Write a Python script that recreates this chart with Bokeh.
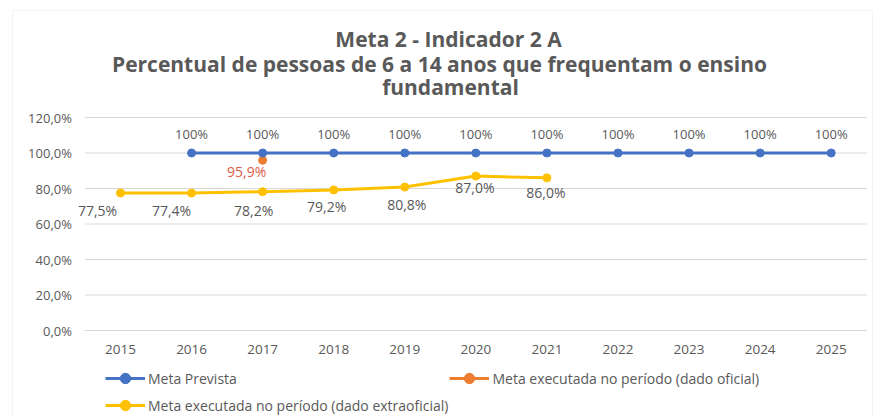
from bokeh.plotting import figure
from bokeh.models import (Label, Legend, LegendItem, CustomJSTickFormatter,
                          Range1d, FixedTicker, BoxAnnotation)
from bokeh.core.properties import value
from bokeh.embed import file_html
from bokeh.resources import INLINE

# ---- data ----
years = [2015, 2016, 2017, 2018, 2019, 2020, 2021, 2022, 2023, 2024, 2025]
meta_prevista = [None, 100, 100, 100, 100, 100, 100, 100, 100, 100, 100]
meta_oficial = [None, None, 95.9, None, None, None, None, None, None, None, None]
meta_extraoficial = [77.5, 77.4, 78.2, 79.2, 80.8, 87.0, 86.0, None, None, None, None]
y_ticks = [0, 20, 40, 60, 80, 100, 120]
title_lines = ["Meta 2 - Indicador 2 A",
               "Percentual de pessoas de 6 a 14 anos que frequentam o ensino",
               "fundamental"]

# ---- layout / style ----
W, H = 874, 416
X_FIRST_PX, X_LAST_PX = 120.0, 830.7   # pixel columns of first / last year
Y0_PX, Y120_PX = 330.0, 117.0          # pixel rows of 0% and 120%
title_cx = [448, 439, 450]
title_cy = [38, 63, 86]
border = (12, 872, 10)                 # left, right, top (px)

prev_dx, prev_dy = 0, -19
ofi_dx, ofi_dy = -16, 11
extra_dx = [-23, -20, -9, -7, 2, -1, -1]
extra_dy = [18, 17, 19, 17, 17, 11, 15]

FONT = "Open Sans"
GRAY = "#595959"
GRID = "#d9d9d9"
BLUE = "#4472C4"
ORANGE = "#ED7D31"
YELLOW = "#FFC000"


def pts(vals):
    xs = [y for y, v in zip(years, vals) if v is not None]
    ys = [v for v in vals if v is not None]
    return xs, ys


kx = (X_LAST_PX - X_FIRST_PX) / (years[-1] - years[0])
ky = (Y0_PX - Y120_PX) / 120.0
xmin = years[0] - X_FIRST_PX / kx
xmax = years[-1] + (W - X_LAST_PX) / kx
ymin = -(H - Y0_PX) / ky
ymax = 120 + Y120_PX / ky
px2x = lambda px: xmin + px / kx
px2y = lambda py: ymax - py / ky
x_lo, x_hi = years[0] - 0.5, years[-1] + 0.5

p = figure(x_range=Range1d(xmin, xmax), y_range=Range1d(ymin, ymax), width=W, height=H,
           output_backend="svg", toolbar_location=None,
           min_border_left=0, min_border_right=0, min_border_top=0,
           min_border_bottom=0, outline_line_color=None)

p.add_layout(BoxAnnotation(left=px2x(border[0]), right=px2x(border[1]),
                           top=px2y(border[2]), bottom=px2y(H + 20),
                           fill_color=None, line_color=GRID, line_width=1))

for txt, cx, cy in zip(title_lines, title_cx, title_cy):
    p.add_layout(Label(x=cx, y=H - cy, x_units="screen", y_units="screen",
                       text=txt, text_align="center", text_baseline="middle",
                       text_font=FONT, text_font_size="21px", text_font_style="bold",
                       text_color=GRAY))

# gridlines (category span only)
p.segment(x0=[x_lo] * len(y_ticks), x1=[x_hi] * len(y_ticks), y0=y_ticks, y1=y_ticks,
          line_color=GRID, line_width=1)

# series
xs_p, ys_p = pts(meta_prevista)
xs_o, ys_o = pts(meta_oficial)
xs_e, ys_e = pts(meta_extraoficial)

r2l = p.line(xs_o, ys_o, line_color=ORANGE, line_width=3)
r2m = p.scatter(xs_o, ys_o, size=8, fill_color=ORANGE, line_color=ORANGE)
r1l = p.line(xs_p, ys_p, line_color=BLUE, line_width=3)
r1m = p.scatter(xs_p, ys_p, size=8, fill_color=BLUE, line_color=BLUE)
r3l = p.line(xs_e, ys_e, line_color=YELLOW, line_width=3)
r3m = p.scatter(xs_e, ys_e, size=8, fill_color=YELLOW, line_color=YELLOW)

# data labels
fmt1 = lambda v: f"{v:.1f}%".replace(".", ",")
p.text(xs_p, ys_p, text=[f"{v:.0f}%" for v in ys_p], x_offset=prev_dx, y_offset=prev_dy,
       text_font=value(FONT), text_font_size="13px", text_color=GRAY,
       text_align="center", text_baseline="middle")
p.text(xs_e, ys_e, text=[fmt1(v) for v in ys_e], x_offset=extra_dx, y_offset=extra_dy,
       text_font=value(FONT), text_font_size="14px", text_color=GRAY,
       text_align="center", text_baseline="middle")
p.text(xs_o, ys_o, text=[fmt1(v) for v in ys_o], x_offset=ofi_dx, y_offset=ofi_dy,
       text_font=value(FONT), text_font_size="14px", text_color="#E05A47",
       text_align="center", text_baseline="middle")

# axes
p.yaxis.fixed_location = x_lo
p.yaxis.ticker = FixedTicker(ticks=y_ticks)
p.yaxis.formatter = CustomJSTickFormatter(code="return tick.toFixed(1).replace('.', ',') + '%';")
p.yaxis.axis_line_color = None
p.yaxis.major_tick_line_color = None
p.yaxis.minor_tick_line_color = None
p.yaxis.major_tick_out = 0
p.yaxis.major_tick_in = 0
p.yaxis.major_label_standoff = 13
p.yaxis.major_label_text_font = FONT
p.yaxis.major_label_text_font_size = "13px"
p.yaxis.major_label_text_color = GRAY

p.xaxis.fixed_location = 0
p.xaxis.bounds = (x_lo, x_hi)
p.xaxis.ticker = FixedTicker(ticks=years)
p.xaxis.formatter = CustomJSTickFormatter(code="return tick.toFixed(0);")
p.xaxis.axis_line_color = GRID
p.xaxis.major_tick_line_color = None
p.xaxis.minor_tick_line_color = None
p.xaxis.major_tick_out = 0
p.xaxis.major_tick_in = 0
p.xaxis.major_label_standoff = 14
p.xaxis.major_label_text_font = FONT
p.xaxis.major_label_text_font_size = "13.5px"
p.xaxis.major_label_text_color = GRAY

p.xgrid.grid_line_color = None
p.ygrid.grid_line_color = None

legend = Legend(items=[
    LegendItem(label="Meta Prevista", renderers=[r1l, r1m]),
    LegendItem(label="Meta executada no período (dado extraoficial)", renderers=[r3l, r3m]),
    LegendItem(label="Meta executada no período (dado oficial)", renderers=[r2l, r2m]),
], ncols=2, location=(105, -2), border_line_color=None, background_fill_alpha=0,
    padding=0, margin=0, spacing=1, label_height=26, glyph_height=26, glyph_width=40,
    label_standoff=3, label_text_font=FONT, label_text_font_size="14px",
    label_text_color=GRAY)
p.add_layout(legend, "center")

open("out.html", "w").write(file_html(p, INLINE))
